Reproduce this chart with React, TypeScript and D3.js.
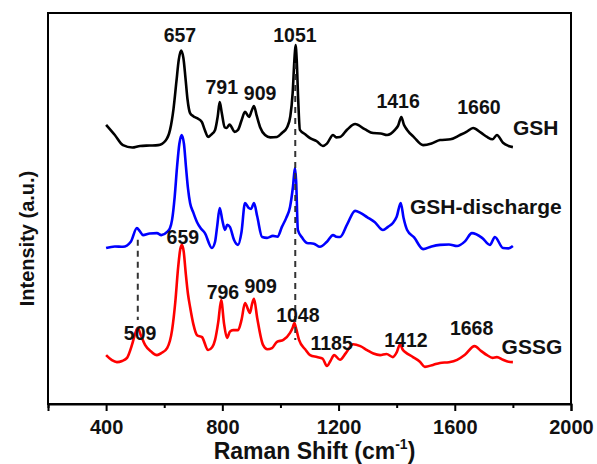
import React, { useEffect, useRef } from "react";
import * as d3 from "d3";

// Raman spectra (stacked, arbitrary intensity units)
const gshShift = [400, 430, 458, 490, 517, 550, 579, 605, 620, 632, 642, 650, 658, 666, 673, 680, 689, 700, 713, 729, 740, 751, 762, 775, 784, 791, 798, 808, 815, 825, 832, 842, 854, 866, 878, 892, 900, 909, 918, 930, 947, 965, 988, 1005, 1023, 1034, 1042, 1048, 1052, 1056, 1061, 1067, 1085, 1102, 1125, 1146, 1160, 1181, 1192, 1205, 1230, 1257, 1290, 1319, 1345, 1367, 1394, 1405, 1416, 1425, 1436, 1460, 1491, 1520, 1549, 1585, 1618, 1640, 1663, 1690, 1711, 1730, 1745, 1766, 1785, 1800];
const gshValue = [71.4, 68.8, 66.2, 65.6, 66.0, 66.1, 66.2, 67.4, 70.1, 75.5, 82.5, 88.0, 90.4, 88.5, 83.5, 78.0, 74.4, 73.6, 73.1, 72.2, 70.0, 68.3, 68.9, 70.1, 73.5, 77.2, 74.5, 70.8, 70.6, 71.5, 70.8, 69.6, 70.1, 72.5, 74.7, 73.4, 74.8, 76.2, 73.8, 70.8, 68.8, 68.2, 68.3, 69.3, 70.8, 73.6, 79.5, 88.0, 91.8, 88.0, 78.0, 70.1, 69.0, 68.0, 67.2, 66.0, 66.6, 68.8, 68.2, 68.3, 70.2, 71.6, 70.3, 69.3, 69.2, 68.8, 70.1, 71.2, 73.4, 71.4, 70.1, 68.2, 66.2, 66.6, 67.5, 67.7, 68.8, 69.6, 70.6, 69.4, 68.3, 67.7, 68.8, 66.8, 66.0, 65.7];

const dischargeShift = [400, 430, 458, 485, 506, 515, 527, 550, 575, 590, 610, 620, 627, 636, 644, 652, 660, 668, 675, 682, 689, 700, 713, 725, 740, 764, 775, 782, 791, 800, 809, 817, 826, 840, 854, 866, 878, 890, 899, 909, 920, 937, 954, 974, 990, 1005, 1020, 1033, 1043, 1050, 1054, 1060, 1075, 1091, 1115, 1136, 1160, 1181, 1192, 1205, 1230, 1257, 1275, 1298, 1325, 1353, 1370, 1387, 1400, 1414, 1424, 1436, 1460, 1491, 1520, 1549, 1580, 1608, 1635, 1659, 1694, 1721, 1738, 1766, 1785, 1800];
const dischargeValue = [39.9, 40.3, 40.2, 41.5, 45.0, 44.3, 43.2, 43.6, 43.7, 43.2, 44.0, 45.0, 47.1, 53.0, 60.5, 66.5, 68.8, 66.5, 60.5, 55.0, 51.4, 49.0, 46.5, 45.0, 43.7, 39.9, 41.5, 45.3, 50.1, 47.0, 44.5, 45.8, 45.3, 42.0, 40.7, 44.0, 51.4, 50.2, 49.9, 51.4, 48.0, 42.7, 42.5, 43.0, 42.8, 45.3, 47.6, 50.4, 55.5, 60.4, 57.0, 44.5, 42.5, 41.2, 41.0, 40.2, 41.5, 43.2, 42.8, 42.7, 46.0, 49.4, 48.9, 47.8, 46.5, 44.5, 45.3, 46.3, 47.9, 51.4, 47.5, 44.5, 42.6, 39.6, 40.3, 40.7, 40.8, 40.4, 41.6, 43.7, 42.5, 40.7, 42.7, 39.9, 39.8, 40.4];

const gssgShift = [400, 420, 437, 455, 472, 489, 500, 509, 520, 534, 555, 575, 590, 610, 627, 638, 648, 655, 661, 667, 674, 682, 689, 700, 713, 730, 751, 765, 775, 786, 796, 806, 816, 826, 837, 854, 866, 878, 895, 902, 909, 920, 940, 955, 971, 988, 1010, 1033, 1042, 1048, 1055, 1064, 1085, 1102, 1126, 1145, 1160, 1172, 1185, 1205, 1225, 1250, 1275, 1298, 1320, 1343, 1365, 1387, 1400, 1412, 1420, 1429, 1456, 1480, 1497, 1525, 1549, 1580, 1608, 1635, 1668, 1690, 1711, 1730, 1745, 1766, 1785, 1800];
const gssgValue = [12.5, 11.2, 10.7, 11.0, 11.8, 15.1, 18.0, 19.4, 17.5, 15.1, 13.4, 12.5, 13.0, 14.3, 18.9, 26.0, 35.0, 39.5, 40.7, 39.0, 33.5, 28.0, 24.8, 20.5, 17.6, 17.1, 13.8, 14.5, 16.4, 21.0, 26.6, 20.5, 16.9, 18.5, 18.9, 18.9, 21.5, 25.8, 23.3, 25.5, 26.9, 22.0, 15.1, 14.0, 14.3, 15.9, 16.4, 18.2, 19.5, 20.7, 19.0, 16.4, 14.0, 12.5, 12.0, 11.6, 9.7, 11.0, 12.5, 11.3, 13.0, 15.3, 14.8, 13.8, 12.9, 12.5, 12.8, 12.0, 13.2, 15.3, 14.0, 13.3, 12.0, 10.8, 9.5, 10.0, 10.5, 10.7, 11.3, 12.6, 14.8, 13.6, 12.5, 11.8, 12.0, 11.3, 10.8, 10.7];

const seriesNames = ["GSH", "GSH-discharge", "GSSG"];
const seriesColors = ["#000000", "#0000ff", "#ff0000"];
// where each series name sits: [shift, intensity]
const seriesLabelAt = [[1800, 68.7], [1446, 48.5], [1761, 12.8]];

// peak labels: text, shift of label centre, intensity of baseline
const peakText = ["657", "1051", "791", "909", "1416", "1660", "659", "509", "796", "909", "1048", "1185", "1412", "1668"];
const peakShift = [654, 1050, 798, 930, 1405, 1683, 664, 517, 802, 932, 1060, 1176, 1432, 1658];
const peakLevel = [92.6, 92.6, 79.3, 77.7, 75.7, 74.2, 40.9, 16.4, 26.9, 28.4, 21.0, 13.8, 14.6, 17.6];

// dashed guide lines: shift, from, to
const guideShift = [509, 1051];
const guideFrom = [42.0, 87.2];
const guideTo = [21.5, 16.4];

const xTicks = [400, 800, 1200, 1600, 2000];
const xMinorTicks = [200, 600, 1000, 1400, 1800];

const App = () => {
  const svgRef = useRef<SVGSVGElement>(null);

  useEffect(() => {
    const w = 597;
    const h = 464;
    const margin = { top: 13, right: 26, bottom: 60, left: 48 };
    const font = "'Liberation Sans', Arial, sans-serif";

    const svg = d3.select(svgRef.current).attr("width", w).attr("height", h);
    svg.selectAll("*").remove();

    const x = d3.scaleLinear().domain([200, 2000]).range([margin.left, w - margin.right]);
    const y = d3.scaleLinear().domain([0, 100]).range([h - margin.bottom, margin.top]);

    const series = [
      { shift: gshShift, value: gshValue },
      { shift: dischargeShift, value: dischargeValue },
      { shift: gssgShift, value: gssgValue },
    ];

    const line = d3
      .line<[number, number]>()
      .x((d) => x(d[0]))
      .y((d) => y(d[1]))
      .curve(d3.curveMonotoneX);

    series.forEach((s, i) => {
      const pts = s.shift.map((v, j) => [v, s.value[j]] as [number, number]);
      svg
        .append("path")
        .datum(pts)
        .attr("d", line)
        .attr("fill", "none")
        .attr("stroke", seriesColors[i])
        .attr("stroke-width", 2.6)
        .attr("stroke-linejoin", "round");
    });

    // dashed guides
    guideShift.forEach((g, i) => {
      svg
        .append("line")
        .attr("x1", x(g))
        .attr("x2", x(g))
        .attr("y1", y(guideFrom[i]))
        .attr("y2", y(guideTo[i]))
        .attr("stroke", "#333")
        .attr("stroke-width", 2)
        .attr("stroke-dasharray", "6,5");
    });

    // frame
    svg
      .append("rect")
      .attr("x", margin.left)
      .attr("y", margin.top)
      .attr("width", w - margin.left - margin.right)
      .attr("height", h - margin.top - margin.bottom)
      .attr("fill", "none")
      .attr("stroke", "#000")
      .attr("stroke-width", 2);

    // x axis
    const gx = svg.append("g").attr("transform", `translate(0, ${h - margin.bottom})`);
    gx.call(d3.axisBottom(x).tickValues(xTicks).tickSize(7).tickPadding(9).tickFormat(d3.format("d")));
    gx.select(".domain").attr("stroke-width", 2);
    gx.selectAll(".tick line").attr("stroke-width", 2);
    gx.selectAll(".tick text")
      .attr("font-size", 20)
      .attr("font-weight", "bold")
      .attr("font-family", font)
      .attr("fill", "#111");

    const gm = svg.append("g").attr("transform", `translate(0, ${h - margin.bottom})`);
    gm.call(d3.axisBottom(x).tickValues(xMinorTicks).tickSize(4).tickFormat(() => ""));
    gm.select(".domain").remove();
    gm.selectAll(".tick line").attr("stroke-width", 2);

    // axis titles
    const xt = svg
      .append("text")
      .attr("x", (margin.left + w - margin.right) / 2 + 5)
      .attr("y", 459)
      .attr("text-anchor", "middle")
      .attr("font-family", font)
      .attr("font-weight", "bold")
      .attr("font-size", 23)
      .attr("fill", "#111");
    xt.append("tspan").text("Raman Shift (cm");
    xt.append("tspan").text("-1").attr("font-size", 14).attr("dy", -10);
    xt.append("tspan").text(")").attr("dy", 10);

    svg
      .append("text")
      .attr("transform", `translate(34, ${(margin.top + h - margin.bottom) / 2 + 30}) rotate(-90)`)
      .attr("text-anchor", "middle")
      .attr("font-family", font)
      .attr("font-weight", "bold")
      .attr("font-size", 20)
      .attr("fill", "#111")
      .text("Intensity (a.u.)");

    // peak labels
    svg
      .selectAll(".peak")
      .data(peakText)
      .join("text")
      .attr("class", "peak")
      .attr("x", (d, i) => x(peakShift[i]))
      .attr("y", (d, i) => y(peakLevel[i]))
      .attr("text-anchor", "middle")
      .attr("font-family", font)
      .attr("font-weight", "bold")
      .attr("font-size", 19.5)
      .attr("fill", "#111")
      .text((d) => d);

    // series names
    svg
      .selectAll(".sname")
      .data(seriesNames)
      .join("text")
      .attr("class", "sname")
      .attr("x", (d, i) => x(seriesLabelAt[i][0]))
      .attr("y", (d, i) => y(seriesLabelAt[i][1]))
      .attr("font-family", font)
      .attr("font-weight", "bold")
      .attr("font-size", 21)
      .attr("fill", "#111")
      .text((d) => d);
  }, []);

  return (
    <svg ref={svgRef} style={{ position: "absolute", left: 0, top: 0, background: "white" }}></svg>
  );
};

export default App;
